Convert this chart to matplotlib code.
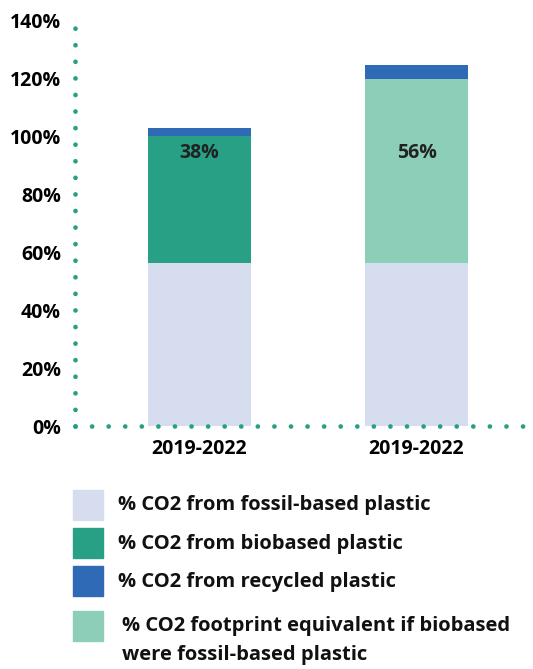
import matplotlib
matplotlib.use("Agg")
import matplotlib.pyplot as plt
from matplotlib.patches import Rectangle

plt.rcParams["font.family"] = ["Open Sans", "DejaVu Sans"]

# data
periods = ["2019-2022", "2019-2022"]
fossil = [56.2, 56.2]
biobased = [43.9, 0.0]
fossil_equiv = [0.0, 63.5]
recycled = [2.7, 4.9]
bar_labels = ["38%", "56%"]
label_y = 94
yticks = [0, 20, 40, 60, 80, 100, 120, 140]
legend_labels = [
    "% CO2 from fossil-based plastic",
    "% CO2 from biobased plastic",
    "% CO2 from recycled plastic",
    "% CO2 footprint equivalent if biobased\nwere fossil-based plastic",
]

c_fossil = "#D6DDEE"
c_bio = "#27A086"
c_rec = "#2E6AB5"
c_equiv = "#8DCEB9"
c_dots = "#25A086"

fig = plt.figure(figsize=(5.33, 6.69), dpi=100)
ax = fig.add_axes([75 / 533, 243 / 669, 455 / 533, 406 / 669])

x = list(range(len(periods)))
w = 0.475
ax.bar(x, fossil, width=w, color=c_fossil, zorder=1)
ax.bar(x, biobased, width=w, bottom=fossil, color=c_bio, zorder=1)
base2 = [f + b for f, b in zip(fossil, biobased)]
ax.bar(x, fossil_equiv, width=w, bottom=base2, color=c_equiv, zorder=1)
base3 = [b + e for b, e in zip(base2, fossil_equiv)]
ax.bar(x, recycled, width=w, bottom=base3, color=c_rec, zorder=1)

for i, lab in enumerate(bar_labels):
    ax.text(x[i], label_y, lab, ha="center", va="center",
            fontsize=14, fontweight="bold", color="#222222")

ax.set_xlim(-0.574, 1.523)
ax.set_ylim(0, 140)
ax.set_xticks(x)
ax.set_xticklabels(periods, fontsize=14, fontweight="bold")
ax.set_yticks(yticks)
ax.set_yticklabels([f"{v}%" for v in yticks], fontsize=14, fontweight="bold")
ax.tick_params(length=0)
ax.tick_params(axis="y", pad=10)
ax.tick_params(axis="x", pad=9)

for side in ["top", "right"]:
    ax.spines[side].set_visible(False)
for side in ["left", "bottom"]:
    sp = ax.spines[side]
    sp.set_color(c_dots)
    sp.set_linewidth(3.4)
    sp.set_linestyle((0, (0.01, 3.5)))
    sp.set_capstyle("round")
    sp.set_zorder(3)

# legend drawn by hand
legend_colors = [c_fossil, c_bio, c_rec, c_equiv]
box_y = [490, 528, 566, 611]
text_y = [505, 544, 582, 627]
text_x = [118, 118, 118, 122]
for col, lab, by, ty, tx in zip(legend_colors, legend_labels, box_y, text_y, text_x):
    fig.add_artist(Rectangle((73 / 533, 1 - (by + 30) / 669), 30 / 533, 30 / 669,
                             transform=fig.transFigure, color=col))
    if "\n" in lab:
        fig.text(tx / 533, 1 - (ty - 11) / 669, lab, ha="left", va="top",
                 fontsize=14.5, fontweight="bold", color="#111111", linespacing=1.6)
    else:
        fig.text(tx / 533, 1 - ty / 669, lab, ha="left", va="center",
                 fontsize=14.5, fontweight="bold", color="#111111")

fig.savefig("out.png", dpi=100)
